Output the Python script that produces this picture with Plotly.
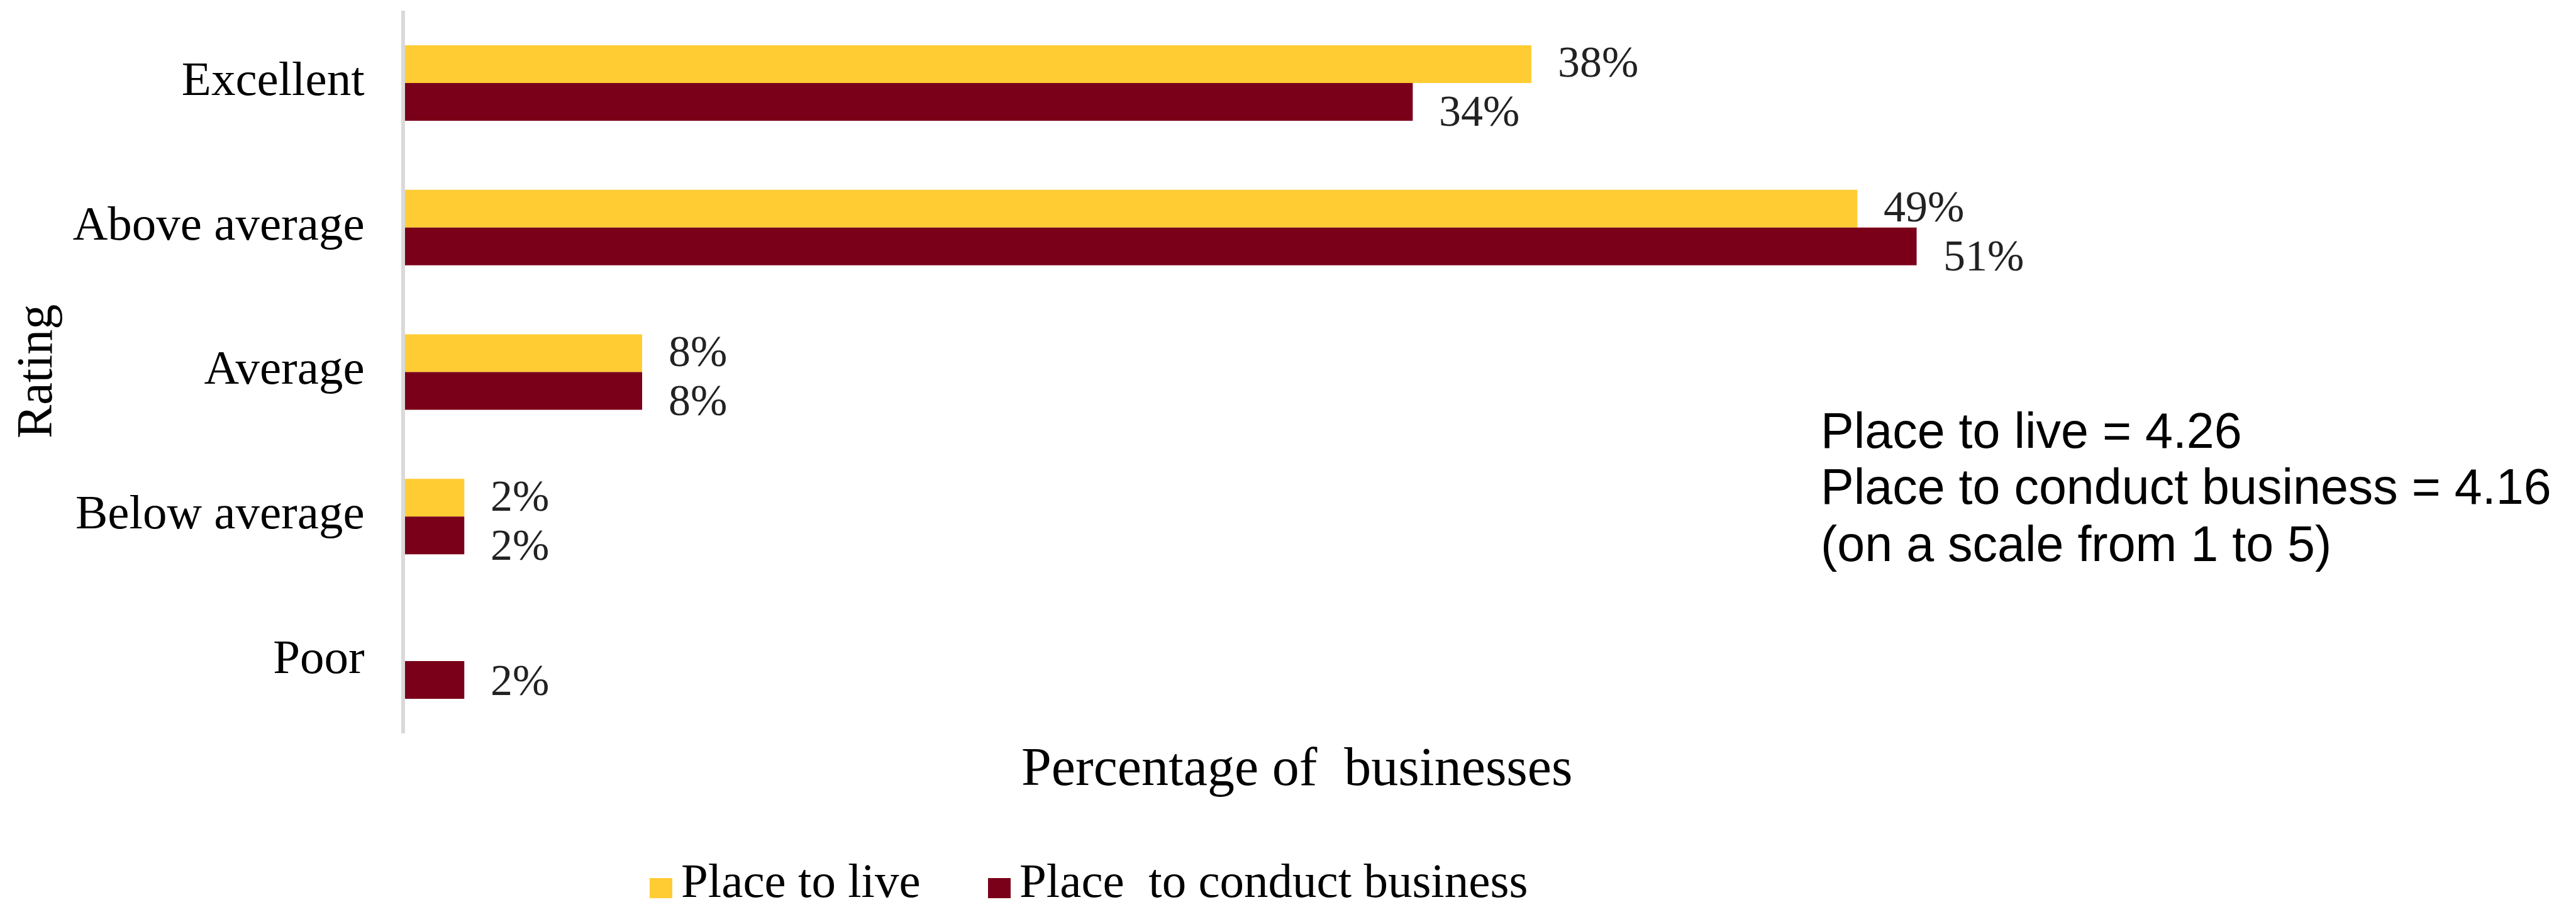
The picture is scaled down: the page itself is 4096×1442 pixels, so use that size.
import plotly.graph_objects as go

# ---- data ----
categories = ["Excellent", "Above average", "Average", "Below average", "Poor"]
place_to_live = [38, 49, 8, 2, None]
place_to_business = [34, 51, 8, 2, 2]
series_names = ["Place to live", "Place\u00a0 to conduct business"]
mean_live = 4.26
mean_business = 4.16
scale_note = "(on a scale from 1 to 5)"
x_title = "Percentage of\u00a0 businesses"
y_title = "Rating"

# ---- style ----
W, H = 4096, 1442
L, R, T, B = 644, 153, 17, 276
PW, PH = W - L - R, H - T - B
COLORS = ["#FFCC33", "#7A0019"]
SERIF = "Liberation Serif"
SANS = "Liberation Sans"
BAR_HALF = 30          # half of one bar's thickness in px (used for label offsets)


def paper_x(px):
    return (px - L) / PW


def paper_y(py):
    return (T + PH - py) / PH


fig = go.Figure()
for name, vals, col in zip(series_names, [place_to_live, place_to_business], COLORS):
    fig.add_trace(go.Bar(
        y=categories, x=vals, name=name, orientation="h",
        marker=dict(color=col, line=dict(width=0)),
        showlegend=False, hoverinfo="skip",
    ))

# value labels to the right of each bar
annotations = []
for i, cat in enumerate(categories):
    v_live, v_bus = place_to_live[i], place_to_business[i]
    if v_live is not None:
        annotations.append(dict(
            x=v_live, y=cat, xref="x", yref="y", text=f"{v_live}%",
            xanchor="left", yanchor="middle", xshift=40, yshift=BAR_HALF + 3,
            showarrow=False, font=dict(family=SERIF, size=70, color="#222222")))
    if v_bus is not None:
        extra = 15 if v_live is not None else 0
        annotations.append(dict(
            x=v_bus, y=cat, xref="x", yref="y", text=f"{v_bus}%",
            xanchor="left", yanchor="middle", xshift=40, yshift=-BAR_HALF - extra,
            showarrow=False, font=dict(family=SERIF, size=70, color="#222222")))

# axis titles
annotations.append(dict(
    x=paper_x(2062), y=paper_y(1219), xref="paper", yref="paper", text=x_title,
    xanchor="center", yanchor="middle", showarrow=False,
    font=dict(family=SERIF, size=86, color="#000000")))
annotations.append(dict(
    x=paper_x(55), y=paper_y(591), xref="paper", yref="paper", text=y_title,
    xanchor="center", yanchor="middle", textangle=-90, showarrow=False,
    font=dict(family=SERIF, size=80, color="#000000")))

# mean score note
note_lines = [f"Place to live = {mean_live:.2f}",
              f"Place to conduct business = {mean_business:.2f}",
              scale_note]
for k, line in enumerate(note_lines):
    annotations.append(dict(
        x=paper_x(2893), y=paper_y(684 + 90 * k), xref="paper", yref="paper",
        text=line, xanchor="left", yanchor="middle", showarrow=False,
        font=dict(family=SANS, size=79, color="#000000")))

# legend drawn as swatches + labels under the chart
shapes = []
legend_x = [1033, 1571]
for name, col, lx in zip(series_names, COLORS, legend_x):
    shapes.append(dict(
        type="rect", xref="paper", yref="paper",
        x0=paper_x(lx), x1=paper_x(lx + 36), y0=paper_y(1428), y1=paper_y(1396),
        fillcolor=col, line=dict(width=0)))
    annotations.append(dict(
        x=paper_x(lx + 48), y=paper_y(1400), xref="paper", yref="paper",
        text=name, xanchor="left", yanchor="middle", showarrow=False,
        font=dict(family=SERIF, size=77, color="#000000")))

fig.update_layout(
    width=W, height=H,
    margin=dict(l=L, r=R, t=T, b=B, pad=0),
    paper_bgcolor="white", plot_bgcolor="white",
    barmode="group", bargap=0.478, bargroupgap=0,
    showlegend=False,
    annotations=annotations, shapes=shapes,
    xaxis=dict(range=[0, 70], showgrid=False, zeroline=False,
               showticklabels=False, showline=False, ticks=""),
    yaxis=dict(categoryorder="array", categoryarray=categories,
               autorange="reversed", showgrid=False, zeroline=False,
               showline=True, linecolor="#D9D9D9", linewidth=6,
               ticks="", ticklabelstandoff=43, ticklabelshift=8,
               tickfont=dict(family=SERIF, size=77, color="#000000")),
)

fig.write_html("out.html")
